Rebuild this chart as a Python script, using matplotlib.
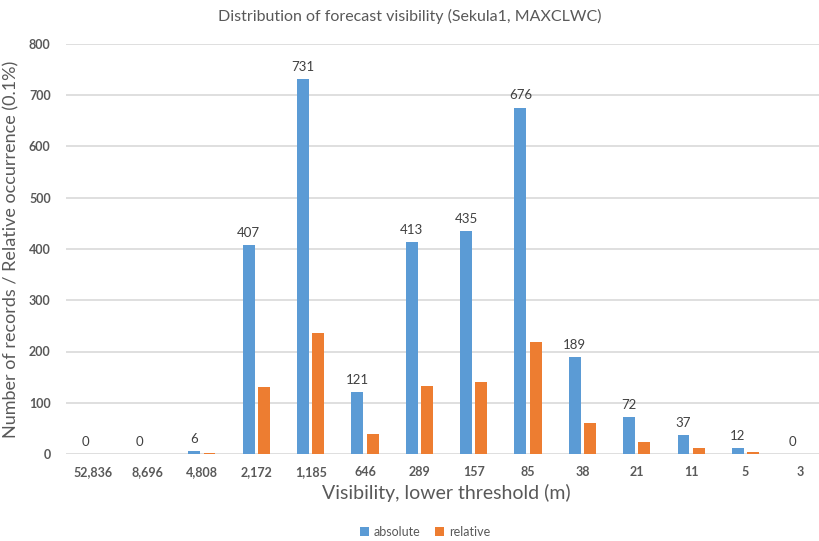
import matplotlib.pyplot as plt
import numpy as np

plt.rcParams['font.family'] = ['Lato', 'DejaVu Sans']

thresholds = ['52,836', '8,696', '4,808', '2,172', '1,185', '646', '289',
              '157', '85', '38', '21', '11', '5', '3']
absolute = [0, 0, 6, 407, 731, 121, 413, 435, 676, 189, 72, 37, 12, 0]
relative = [0, 0, 1.9, 131.3, 235.9, 39.0, 133.3, 140.4, 218.1, 61.0, 23.2, 11.9, 3.9, 0]

blue = '#5B9BD5'
orange = '#ED7D31'
grey = '#595959'

fig = plt.figure(figsize=(8.19, 5.41), dpi=100)
ax = fig.add_axes([66/819, 87/541, 761/819, 410/541])

x = np.arange(len(thresholds))
w = 0.22
ax.bar(x - 0.14, absolute, w, color=blue, label='absolute', zorder=3)
ax.bar(x + 0.14, relative, w, color=orange, label='relative', zorder=3)

for xi, v in zip(x, absolute):
    ax.text(xi - 0.14, v + 12, str(v), ha='center', va='bottom',
            fontsize=9.5, color='#404040')

ax.set_xlim(-0.5, len(thresholds) - 0.5)
ax.set_ylim(0, 800)
ax.set_yticks(range(0, 801, 100))
ax.yaxis.grid(True, color='#d9d9d9', linewidth=1.2, zorder=0)
for s in ax.spines.values():
    s.set_visible(False)
ax.tick_params(length=0)
ax.set_xticks(x)
ax.set_xticklabels(thresholds, fontsize=9, fontweight='bold', color=grey)
ax.tick_params(axis='x', pad=9)
ax.tick_params(axis='y', pad=11)
for lab in ax.get_yticklabels():
    lab.set_fontsize(9)
    lab.set_fontweight('bold')
    lab.set_color(grey)

ax.set_xlabel('Visibility, lower threshold (m)', fontsize=14, color=grey, labelpad=4)
ax.set_ylabel('Number of records / Relative occurrence (0.1%)', fontsize=13,
              color=grey, labelpad=7)
fig.text(0.5, 0.97, 'Distribution of forecast visibility (Sekula1, MAXCLWC)',
         ha='center', va='center', fontsize=11.5, color=grey)

fig.legend(loc='center', bbox_to_anchor=(425/819, 1 - 532/541), ncol=2,
           frameon=False, fontsize=9, handlelength=0.7, handleheight=0.7,
           columnspacing=1.2, handletextpad=0.4, labelcolor=grey)

fig.savefig('out.png', dpi=100)
